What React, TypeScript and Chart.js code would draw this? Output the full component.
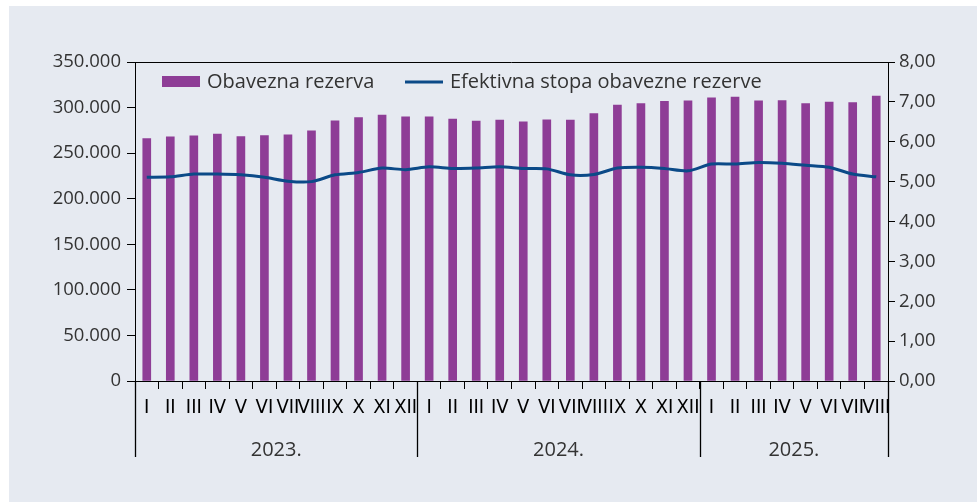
import { useEffect, useRef } from 'react';
import { Chart, registerables } from 'chart.js';

Chart.register(...registerables);

// ---- data ----
const monthLabels = [
  'I', 'II', 'III', 'IV', 'V', 'VI', 'VII', 'VIII', 'IX', 'X', 'XI', 'XII',
  'I', 'II', 'III', 'IV', 'V', 'VI', 'VII', 'VIII', 'IX', 'X', 'XI', 'XII',
  'I', 'II', 'III', 'IV', 'V', 'VI', 'VII', 'VIII',
];
const yearLabels = ['2023.', '2024.', '2025.'];
const monthsPerYear = [12, 12, 8];

const reserveLabel = 'Obavezna rezerva';
const reserve = [
  266100, 268000, 269100, 270900, 268300, 269400, 270200, 274500, 285500, 289100, 291700, 289800,
  289800, 287300, 285100, 286200, 284400, 286600, 286200, 293500, 302600, 304400, 306900, 307300,
  310600, 311400, 307300, 307700, 304400, 305900, 305500, 312500,
];

const rateLabel = 'Efektivna stopa obavezne rezerve';
const rate = [
  5.11, 5.12, 5.19, 5.19, 5.17, 5.11, 5.01, 5.0, 5.17, 5.23, 5.34, 5.3,
  5.37, 5.33, 5.34, 5.37, 5.33, 5.32, 5.17, 5.18, 5.34, 5.36, 5.33, 5.27,
  5.44, 5.44, 5.48, 5.46, 5.41, 5.36, 5.19, 5.12,
];

const leftTicksMax = 350000;
const leftStep = 50000;
const rightTicksMax = 8;
const rightStep = 1;

// ---- styles ----
const FONT = "'Open Sans', 'Noto Sans', sans-serif";
const MONTH_FONT = "'Liberation Sans Narrow', 'DejaVu Sans Condensed', 'Liberation Sans', sans-serif";
const BAR = '#8e3d96';
const LINE = '#0b4a88';
const BG = '#e6eaf1';
const TEXT = '#333333';

const fmtThousands = (v: number) => String(v).replace(/\B(?=(\d{3})+(?!\d))/g, '.');
const fmtRate = (v: number) => v.toFixed(2).replace('.', ',');

const decorPlugin = {
  id: 'decor',
  beforeDraw(chart: any) {
    const { ctx, width, height } = chart;
    ctx.save();
    ctx.fillStyle = '#ffffff';
    ctx.fillRect(0, 0, width, height);
    ctx.fillStyle = BG;
    ctx.fillRect(9, 6, width - 11, height - 6);
    ctx.restore();
  },
  afterDraw(chart: any) {
    const { ctx, chartArea } = chart;
    const xs = chart.scales.x;
    const { left, right, top, bottom } = chartArea;
    const n = monthLabels.length;
    const cw = (right - left) / n;
    ctx.save();
    // top frame line
    ctx.strokeStyle = '#000';
    ctx.lineWidth = 1;
    ctx.beginPath();
    ctx.moveTo(left, Math.round(top) + 0.5);
    ctx.lineTo(right, Math.round(top) + 0.5);
    ctx.stroke();

    // month labels
    ctx.fillStyle = '#000';
    ctx.font = `20px ${MONTH_FONT}`;
    ctx.textAlign = 'center';
    ctx.textBaseline = 'middle';
    monthLabels.forEach((m, i) => {
      ctx.fillText(m, xs.getPixelForValue(i), bottom + 27);
    });

    // year separators and labels
    let start = 0;
    const bounds: number[] = [0];
    monthsPerYear.forEach((c) => { start += c; bounds.push(start); });
    ctx.strokeStyle = '#000';
    ctx.lineWidth = 1.3;
    bounds.forEach((b) => {
      const x = Math.round(left + b * cw) + 0.5;
      ctx.beginPath();
      ctx.moveTo(x, bottom);
      ctx.lineTo(x, bottom + 76);
      ctx.stroke();
    });
    ctx.fillStyle = TEXT;
    ctx.font = `20px ${FONT}`;
    yearLabels.forEach((y, k) => {
      const cx = left + ((bounds[k] + bounds[k + 1]) / 2) * cw;
      ctx.fillText(y, cx, bottom + 69);
    });

    // legend
    const ly = top + 20;
    ctx.fillStyle = BAR;
    ctx.fillRect(162, ly - 6, 38, 11);
    ctx.fillStyle = TEXT;
    ctx.font = `20px ${FONT}`;
    ctx.textAlign = 'left';
    ctx.fillText(chart.data.datasets[1].label, 207, ly);
    ctx.strokeStyle = LINE;
    ctx.lineWidth = 3;
    ctx.beginPath();
    ctx.moveTo(405, ly);
    ctx.lineTo(443, ly);
    ctx.stroke();
    ctx.fillStyle = TEXT;
    ctx.fillText(chart.data.datasets[0].label, 450, ly);
    ctx.restore();
  },
};

export default function App() {
  const ref = useRef<HTMLCanvasElement>(null);
  useEffect(() => {
    document.body.style.margin = '0';
    const chart = new Chart(ref.current as HTMLCanvasElement, {
      type: 'bar',
      data: {
        labels: monthLabels,
        datasets: [
          {
            type: 'line',
            label: rateLabel,
            data: rate,
            yAxisID: 'y1',
            borderColor: LINE,
            backgroundColor: LINE,
            borderWidth: 3,
            pointRadius: 0,
            tension: 0.25,
            order: 0,
          } as any,
          {
            type: 'bar',
            label: reserveLabel,
            data: reserve,
            yAxisID: 'y',
            backgroundColor: BAR,
            barThickness: 8,
            order: 1,
          },
        ],
      },
      options: {
        responsive: false,
        animation: false,
        layout: { padding: { top: 62, left: 0, right: 0, bottom: 0 } },
        plugins: { legend: { display: false }, tooltip: { enabled: false } },
        scales: {
          x: {
            offset: true,
            grid: { offset: true, drawOnChartArea: false, drawTicks: true, tickLength: 8, color: '#000' },
            border: { display: true, color: '#000' },
            ticks: { display: false },
            afterFit: (s: any) => { s.height = 121; },
          },
          y: {
            position: 'left',
            min: 0,
            max: leftTicksMax,
            grid: { drawOnChartArea: false, drawTicks: true, tickLength: 8, color: '#000' },
            border: { display: true, color: '#000' },
            ticks: {
              stepSize: leftStep,
              padding: 6,
              color: TEXT,
              font: { family: FONT, size: 18.5 },
              callback: (v: any) => fmtThousands(Number(v)),
            },
            afterFit: (s: any) => { s.width = 135; },
          },
          y1: {
            position: 'right',
            min: 0,
            max: rightTicksMax,
            grid: { drawOnChartArea: false, drawTicks: true, tickLength: 7, color: '#000' },
            border: { display: true, color: '#000' },
            ticks: {
              stepSize: rightStep,
              padding: 4,
              color: TEXT,
              font: { family: FONT, size: 18.5 },
              callback: (v: any) => fmtRate(Number(v)),
            },
            afterFit: (s: any) => { s.width = 91; },
          },
        },
      },
      plugins: [decorPlugin],
    });
    return () => chart.destroy();
  }, []);
  return (
    <div style={{ position: 'absolute', left: 0, top: 0, width: 979, height: 502 }}>
      <canvas ref={ref} width={979} height={502} style={{ width: 979, height: 502, display: 'block' }} />
    </div>
  );
}
